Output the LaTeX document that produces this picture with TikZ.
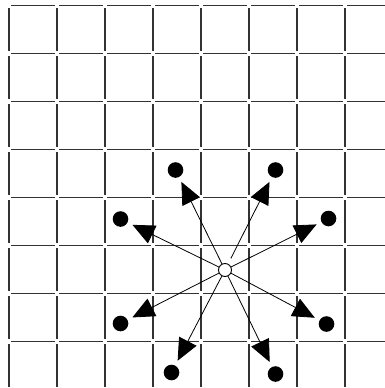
\documentclass[tikz,border=0pt]{standalone}
\usetikzlibrary{arrows.meta}
\begin{document}
\begin{tikzpicture}[x=1pt,y=-1pt,
  gridseg/.style={line width=1.3pt,black!80},
  dot/.style={circle,fill=black,inner sep=0pt,outer sep=0pt,minimum size=15.6pt},
  hub/.style={circle,draw=black,fill=white,line width=0.9pt,inner sep=0pt,outer sep=0pt,minimum size=13pt},
  arr/.style={line width=0.8pt,-{Triangle[length=22pt,width=19.5pt]},shorten >=5.5pt}]
\useasboundingbox (0,0) rectangle (385,388);
\clip (0,0) rectangle (385,388);
% grid of short segments
\foreach \i in {0,...,7}{
  \foreach \j in {0,...,7}{
    \draw[gridseg] ({9+48*\j+2.3},{5.7+48*\i}) -- ({9+48*(\j+1)-2.3},{5.7+48*\i});
    \draw[gridseg] ({9+48*\i},{5.7+48*\j+2.3}) -- ({9+48*\i},{5.7+48*(\j+1)-2.3});
  }
}
% hub and dots
\node[hub] (c) at (225,270) {};
\node[dot] (d1) at (175.5,170) {};
\node[dot] (d2) at (275.5,170) {};
\node[dot] (d3) at (120.5,219) {};
\node[dot] (d4) at (328.5,218.5) {};
\node[dot] (d5) at (120.5,323.5) {};
\node[dot] (d6) at (326.5,324) {};
\node[dot] (d7) at (171.5,372.5) {};
\node[dot] (d8) at (275.5,374) {};
% arrows
\draw[arr] (c) -- (d1);
\draw[arr,shorten <=6.5pt] (c) -- (d2);
\draw[arr] (c) -- (d3);
\draw[arr] (c) -- (d4);
\draw[arr] (c) -- (d5);
\draw[arr] (c) -- (d6);
\draw[arr] (c) -- (d7);
\draw[arr] (c) -- (d8);
\end{tikzpicture}
\end{document}
